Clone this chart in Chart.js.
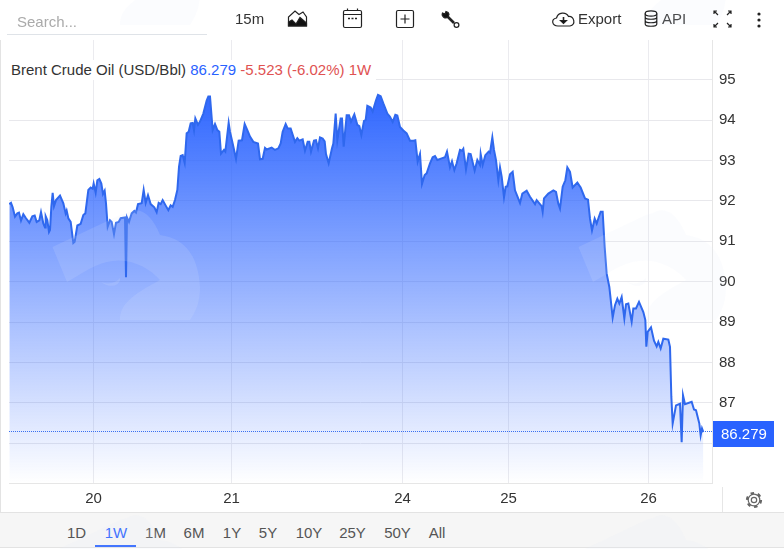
<!DOCTYPE html>
<html><head><meta charset="utf-8">
<script src="https://cdn.jsdelivr.net/npm/chart.js@4"></script>
<style>
html,body{margin:0;padding:0;background:#fff;overflow:hidden}
body{width:784px;height:549px;position:relative;font:15px "Liberation Sans",Arial,sans-serif;color:#333}
canvas{position:absolute;left:0;top:0}
.t{position:absolute;white-space:nowrap;line-height:18px}
.ic{position:absolute;left:0;top:0;pointer-events:none}
#legend{position:absolute;left:2px;top:60px;height:20px;width:374px;background:#fff;padding-left:9px;line-height:20px;box-sizing:border-box;white-space:nowrap}
#foot{position:absolute;left:0;top:512px;width:784px;height:36px;background:#f6f6f6;border-top:1px solid #e3e3e3;border-bottom:1px solid #e3e3e3;box-sizing:border-box}
#underline{position:absolute;left:95px;top:545px;width:41px;height:2px;background:#2962ff}
.tab{position:absolute;top:524px;transform:translateX(-50%);line-height:18px;color:#555}
</style></head><body>
<canvas id="c" width="784" height="549"></canvas>
<div id="legend"><span>Brent Crude Oil (USD/Bbl)</span> <span style="color:#2962ff">86.279</span> <span style="color:#e05252">-5.523 (-6.02%) 1W</span></div>
<div style="position:absolute;left:7px;top:34px;width:200px;height:1px;background:#dfe3e8"></div>
<div class="t" style="left:17px;top:13px;color:#aaa">Search...</div>
<div class="t" style="left:235px;top:10px">15m</div>
<svg class="ic" width="784" height="40" style="z-index:3" fill="none" stroke="#222" stroke-width="1.200">
 <path d="M288.500 26V17L295 11L299 14.500L303 12L306.500 17V26Z"/>
 <path d="M288.500 26V22L292 20L296 24L300 17.500L306.500 23V26Z" fill="#111"/>
 <rect x="343.500" y="10.500" width="18" height="17" rx="1.500"/><path d="M343.500 14.500H361.500M347.500 8.500V10.500M357.500 8.500V10.500"/><path d="M348 18.500H350M351.500 18.500H353.500M355 18.500H357" stroke-width="1.500"/>
 <rect x="396.500" y="10.500" width="17" height="17" rx="1.500"/><path d="M405 14.500V23.500M400.500 19H409.500"/>
 <path d="M446.500 15.500L454 23" stroke-width="2.600"/><circle cx="456.500" cy="25" r="2.400"/>
 <path d="M442.500 13A3.500 3.500 0 0 0 448 17L449 14.500A3.500 3.500 0 0 0 446 11.500L445 14Z" fill="#111"/>
 <path d="M558 26C552 26 550.500 19 556.500 18C558 12 566 11.500 568.500 16.500C574 16 576.500 25 570 26Z"/>
 <path d="M563.500 17V21" stroke-width="1.600"/><path d="M560.500 20.500L563.500 23.500L566.500 20.500Z" fill="#111"/>
 <ellipse cx="651" cy="13.500" rx="5.800" ry="2.600"/><path d="M645.200 13.500V24C645.200 27 656.800 27 656.800 24V13.500M645.200 17C645.200 20 656.800 20 656.800 17M645.200 20.500C645.200 23.500 656.800 23.500 656.800 20.500"/>
 <path d="M714 14V11H717M714.500 11.500L718 15M731 14V11H728M730.500 11.500L727 15M714 24V27H717M714.500 26.500L718 23M731 24V27H728M730.500 26.500L727 23"/>
 <g fill="#222" stroke="none"><circle cx="759" cy="14" r="1.600"/><circle cx="759" cy="20" r="1.600"/><circle cx="759" cy="26" r="1.600"/></g>
</svg>
<div class="t" style="left:578px;top:10px">Export</div>
<div class="t" style="left:662px;top:10px">API</div>
<div style="position:absolute;left:0;top:40px;width:1px;height:472px;background:#e3e3e3"></div>
<div style="position:absolute;left:722px;top:487px;width:1px;height:25px;background:#e6e6e6"></div>
<svg class="ic" width="784" height="549" style="z-index:3" fill="none" stroke="#666" stroke-width="1.200">
 <circle cx="754" cy="500" r="2.700"/><circle cx="754" cy="500" r="5.800"/>
 <circle cx="754" cy="500" r="7" stroke-width="2.200" stroke-dasharray="3.500 3.830"/>
</svg>
<div id="foot"></div>
<div id="tabs"></div>
<div id="underline"></div>
<svg class="ic" width="784" height="549" style="z-index:2">
 <defs>
  <g id="mark">
   <path d="M52.500 247L120 215L127 213C140 205 152 215 160 235C182 238 198 252 200 287C200 300 197 310 190 320L120 320C120 305 130 296 160 280C150 268 130 258 113 261C95 263 85 272 67 282Z"/>
   <path d="M101 282C108 285 116 283 120 278C121 284 112 290 101 282Z"/>
  </g>
 </defs>
 <g fill="rgba(225,232,245,.14)">
  <use href="#mark"/><use href="#mark" x="526"/>
  <use href="#mark" y="305"/><use href="#mark" x="526" y="305"/>
  <use href="#mark" y="-295"/><use href="#mark" x="526" y="-295"/>
 </g>
</svg>
<script>
const barIndex=[28,33,38,45,52,57,63,70,78,88,97,104,110,118,123,130,135,137,142,147,150,154,158,162,168,180,190,197,200,205,212,220,224,232,242,250,256,265,272,278,281,287,292,298,304,309,314,318,323,330,335,342,348,356,362,375,378,381,387,395,403,408,414,425,431,437,444,452,463,470,476,482,488,498,505,512,518,525,532,537,542,548,554,560,566,572,578,582,586,594,600,610,620,625,630,638,645,652,658,663,672,676,686,690,698,708,716,726,734,742,750,
760,774,780,788,795,800,815,825,835,842,848,857,863,872,885,892,898,908,915,923,928,933,942,948,954,960,968,974,978,986,996,1000,1007,1012,1022,1026,1031,1040,1047,1053,1063,1072,1078,1084,1092,1097,1102,1112,1118,1128,1134,1142,1150,1162,1170,1178,1186,1192,1200,1210,1220,1230,1240,1246,1253,1260,1266,1274,1280,1290,1298,1305,1312,1325,1335,1341,1350,1356,1363,1370,1380,1386,1390,1398,1406,1412,1424,1432,1440,1442,1448,1456,1466,1470,1477,1482,1488,1495,1500,1505,1512,1517,1522,1530,
1538,1545,1560,1567,1580,1590,1605,1610,1625,1628,1632,1645,1660,1668,1675,1680,1688,1696,1702,1710,1718,1732,1742,1755,1764,1770,1776,1784,1790,1796,1802,1808,1814,1820,1828,1838,1845,1852,1858,1865,1873,1878,1885,1895,1900,1908,1917,1930,1936,1939,1943,1953,1962,1970,1975,1982,1990,2005,2010,2014,2018,2028,2040,2045,2049,2055,2075,2082,2088,2098,2102,2106,2110];
const prices=[91.92,91.95,91.84,91.61,91.69,91.71,91.51,91.67,91.57,91.46,91.62,91.64,91.48,91.52,91.72,91.44,91.34,91.62,91.52,91.23,91.28,91.85,92.20,91.87,92.02,92.13,91.94,91.69,91.76,91.57,91.48,90.96,90.99,91.39,91.43,91.65,91.69,92.27,92.33,92.30,92.43,92.20,92.51,92.54,92.43,92.17,92.25,91.94,91.36,91.52,91.48,91.18,91.46,91.48,91.57,91.59,90.11,91.59,91.48,91.69,91.75,91.71,91.92,91.94,92.27,91.95,92.14,91.92,91.84,91.72,91.95,91.92,92.02,91.87,91.77,91.89,91.85,92.02,92.27,92.84,93.11,93.13,92.94,93.67,93.71,93.92,93.93,93.75,94.04,93.88,93.96,94.16,94.48,94.58,94.58,93.75,93.90,93.75,93.71,93.17,93.26,93.22,93.93,93.71,93.42,93.04,93.49,93.50,93.90,93.75,93.59,
93.46,93.42,93.03,93.04,93.31,93.27,93.32,93.26,93.30,93.42,93.71,93.90,93.79,93.79,93.46,93.55,93.49,93.52,93.24,93.46,93.46,93.22,93.49,93.50,93.30,93.57,93.54,93.47,93.16,92.93,93.30,93.42,94.16,93.50,94.04,94.04,93.34,94.12,94.12,93.96,94.14,93.88,93.85,93.63,93.98,94.00,94.35,94.31,94.21,94.49,94.62,94.59,94.41,94.16,94.08,93.95,94.13,94.11,93.83,93.74,93.67,93.49,93.49,93.50,92.97,93.16,92.42,92.64,92.68,92.93,93.08,93.11,93.01,93.05,93.08,93.22,92.83,92.98,92.76,92.93,93.26,93.24,93.29,92.78,93.17,93.16,92.75,93.01,92.89,93.16,92.89,93.13,93.22,93.19,93.57,93.26,93.01,92.51,92.83,92.60,92.09,92.35,92.36,92.66,
92.72,92.26,91.95,92.18,92.25,92.10,91.92,92.02,91.87,91.73,92.06,92.18,92.26,92.22,91.93,91.81,92.35,92.51,92.83,92.72,92.33,92.45,92.33,92.06,92.03,91.56,91.27,91.56,91.44,91.59,91.73,91.73,90.86,90.20,89.87,89.11,89.42,89.58,89.46,89.62,89.09,89.44,89.46,89.01,89.34,89.34,89.50,89.25,89.05,88.39,88.76,88.87,88.54,88.40,88.51,88.35,88.59,88.57,88.39,87.15,86.49,86.94,86.98,86.03,87.19,86.97,87.03,86.84,86.82,86.49,86.20,86.37,86.279];
const dayTickBars=[280.5,694.5,1207.5,1525.5,1945.5];
const dayLabels=['20','21','24','25','26'];
const priceTicks=[86,87,88,89,90,91,92,93,94,95];
const hiddenPriceLabel=86;
const rangeTabs=['1D','1W','1M','6M','1Y','5Y','10Y','25Y','50Y','All'];
const tabCentres=[76.5,116,155.5,194,232,268,309,352.5,397.5,437];
const lastPrice=86.279;

document.getElementById('tabs').innerHTML=rangeTabs.map((t,i)=>
 `<div class="tab" style="left:${tabCentres[i]}px;${t==='1W'?'color:#2962ff':''}">${t}</div>`).join('');

const font={family:'"Liberation Sans",Arial,sans-serif',size:15};
const lastPricePlugin={id:'lastPrice',afterDraw(ch){
 const g=ch.ctx,y=ch.scales.y.getPixelForValue(lastPrice),a=ch.chartArea;
 g.save();g.strokeStyle='#3a6ff0';g.lineWidth=1;g.setLineDash([1,1]);
 g.beginPath();g.moveTo(a.left,Math.floor(y)-.5);g.lineTo(a.right,Math.floor(y)-.5);g.stroke();g.setLineDash([]);
 g.fillStyle='#2962ff';g.fillRect(713,421,61,26);
 g.fillStyle='#fff';g.font='15px "Liberation Sans",Arial,sans-serif';g.textAlign='left';g.textBaseline='middle';
 g.fillText(lastPrice.toFixed(3),721,434.5);g.restore();
}};
new Chart(document.getElementById('c'),{
 type:'line',
 data:{datasets:[{
  data:barIndex.map((b,i)=>({x:b,y:prices[i]})),
  borderColor:'#2f68ee',borderWidth:2,pointRadius:0,tension:0,fill:'start',
  backgroundColor(ctx){
   const ch=ctx.chart;if(!ch.chartArea)return 'transparent';
   const top=ch.scales.y.getPixelForValue(Math.max(...prices));
   const gr=ch.ctx.createLinearGradient(0,top,0,ch.chartArea.bottom);
   gr.addColorStop(0,'rgba(41,98,255,.97)');gr.addColorStop(1,'rgba(41,98,255,0)');
   return gr;
  }
 }]},
 options:{
  responsive:false,animation:false,devicePixelRatio:1,
  layout:{padding:{left:9,top:40,right:0,bottom:0}},
  plugins:{legend:{display:false},tooltip:{enabled:false}},
  scales:{
   x:{type:'linear',min:27,max:2136,
    afterBuildTicks(s){s.ticks=dayTickBars.map(v=>({value:v}));},
    afterFit(s){s.height=66;},
    grid:{color:'#ebebef',tickLength:0},border:{color:'#e6e6e6'},
    ticks:{autoSkip:false,maxRotation:0,padding:7,color:'#333',font,
     callback(v){return dayLabels[dayTickBars.indexOf(v)];}}},
   y:{position:'right',min:85.02,max:95.98,
    afterBuildTicks(s){s.ticks=priceTicks.map(v=>({value:v}));},
    afterFit(s){s.width=72;},
    grid:{color:'#e8e8ec',tickLength:0},border:{color:'#e6e6e6'},
    ticks:{padding:7,color:'#333',font,callback:v=>v===hiddenPriceLabel?'':String(v)}}
  }
 },
 plugins:[lastPricePlugin]
});
</script>
</body></html>
